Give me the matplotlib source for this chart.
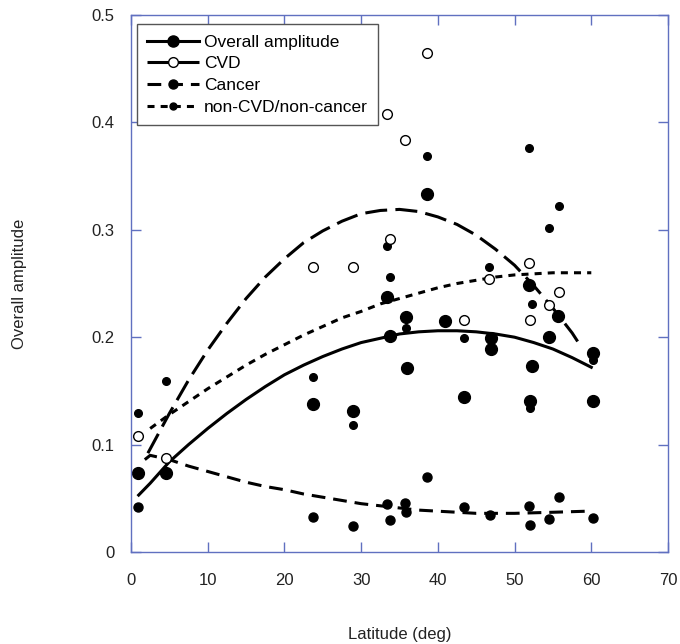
import matplotlib
matplotlib.use("Agg")
import matplotlib.pyplot as plt
from matplotlib.lines import Line2D

plt.rcParams['font.family'] = ['Liberation Sans', 'DejaVu Sans']

# point data (latitude, amplitude)
overall_lat = [0.9, 4.6, 23.7, 28.9, 33.4, 33.8, 35.9, 36.0, 38.6, 40.9, 43.4, 46.9, 46.9,
               51.9, 52.0, 52.3, 54.5, 55.7, 60.2, 60.2]
overall_amp = [0.074, 0.074, 0.138, 0.131, 0.237, 0.201, 0.219, 0.171, 0.333, 0.215, 0.144, 0.189, 0.199,
               0.249, 0.141, 0.173, 0.200, 0.220, 0.185, 0.141]

cvd_lat = [0.9, 4.6, 23.7, 28.9, 33.4, 33.8, 35.7, 38.6, 43.4, 46.7, 51.9, 52.0, 54.5, 55.8]
cvd_amp = [0.108, 0.0875, 0.265, 0.265, 0.408, 0.291, 0.384, 0.465, 0.216, 0.254, 0.269, 0.216, 0.230, 0.242]

cancer_lat = [0.9, 23.7, 28.9, 33.4, 33.8, 35.7, 35.9, 38.6, 43.4, 46.8, 51.9, 52.0, 54.5, 55.8, 60.2]
cancer_amp = [0.042, 0.033, 0.024, 0.045, 0.030, 0.046, 0.037, 0.070, 0.042, 0.034, 0.043, 0.025, 0.031, 0.051, 0.032]

other_lat = [0.9, 4.6, 23.7, 28.9, 33.4, 33.8, 35.9, 38.6, 43.4, 46.7, 51.9, 52.0, 52.3, 54.5, 55.8, 60.2]
other_amp = [0.129, 0.159, 0.163, 0.118, 0.285, 0.256, 0.209, 0.369, 0.199, 0.265, 0.376, 0.134, 0.231, 0.302, 0.322, 0.179]

# trend curves
overall_fit_x = [1, 2.5, 5, 7.5, 10, 12.5, 15, 17.5, 20, 22.5, 25, 27.5, 30, 32.5, 35, 37.5,
                 40, 42.5, 45, 47.5, 50, 52.5, 55, 57.5, 60]
overall_fit_y = [0.053, 0.064, 0.084, 0.100, 0.115, 0.129, 0.142, 0.154, 0.165, 0.174, 0.182, 0.189,
                 0.195, 0.199, 0.203, 0.205, 0.206, 0.206, 0.205, 0.203, 0.200, 0.195, 0.189, 0.181, 0.172]

cvd_fit_x = [2.2, 5, 7.5, 10, 12.5, 15, 17.5, 20, 22.5, 25, 27.5, 30, 32.5, 35, 37.5,
             40, 42.5, 45, 47.5, 50, 52.5, 55, 57.5, 58.5]
cvd_fit_y = [0.092, 0.129, 0.160, 0.188, 0.213, 0.236, 0.256, 0.273, 0.288, 0.299, 0.308, 0.315,
             0.318, 0.319, 0.317, 0.312, 0.305, 0.295, 0.282, 0.267, 0.248, 0.227, 0.204, 0.193]

cancer_fit_x = [1.8, 2.5, 5, 7.5, 10, 12.5, 15, 17.5, 20, 22.5, 25, 27.5, 30, 32.5, 35, 37.5,
                40, 45, 50, 55, 59.5]
cancer_fit_y = [0.086, 0.090, 0.086, 0.080, 0.075, 0.070, 0.065, 0.061, 0.058, 0.054, 0.051, 0.048,
                0.045, 0.043, 0.041, 0.039, 0.038, 0.036, 0.036, 0.037, 0.038]

other_fit_x = [2.5, 5, 7.5, 10, 12.5, 15, 17.5, 20, 22.5, 25, 27.5, 30, 32.5, 35, 37.5,
               40, 42.5, 45, 47.5, 50, 52.5, 55, 60]
other_fit_y = [0.115, 0.128, 0.140, 0.152, 0.163, 0.174, 0.184, 0.193, 0.202, 0.210, 0.218, 0.224,
               0.231, 0.236, 0.241, 0.246, 0.250, 0.253, 0.256, 0.258, 0.259, 0.260, 0.260]

spine_col = '#6070c0'
cvd_ls = (0, (7.2, 2.7))
cancer_ls = (0, (4.5, 2.6))
other_ls = (0, (2.3, 2.0))
lw = 2.2

fig = plt.figure(figsize=(6.8, 6.44), dpi=100)
ax = fig.add_axes([131 / 680, 1 - 552 / 644, 537 / 680, 537 / 644])

ax.plot(overall_fit_x, overall_fit_y, color='black', lw=lw, ls='-')
ax.plot(cvd_fit_x, cvd_fit_y, color='black', lw=lw, ls=cvd_ls)
ax.plot(cancer_fit_x, cancer_fit_y, color='black', lw=lw, ls=cancer_ls)
ax.plot(other_fit_x, other_fit_y, color='black', lw=lw, ls=other_ls)

ax.plot(overall_lat, overall_amp, 'o', color='black', ms=8.5, ls='none')
ax.plot(other_lat, other_amp, 'o', color='black', ms=5.5, ls='none')
ax.plot(cancer_lat, cancer_amp, 'o', color='black', ms=6.5, ls='none')
ax.plot(cvd_lat, cvd_amp, 'o', mfc='white', mec='black', mew=1.0, ms=7, ls='none')

ax.set_xlim(0, 70)
ax.set_ylim(0, 0.5)
ax.set_xticks(range(0, 71, 10))
ax.set_yticks([0, 0.1, 0.2, 0.3, 0.4, 0.5])
ax.set_yticklabels(['0', '0.1', '0.2', '0.3', '0.4', '0.5'])

for s in ax.spines.values():
    s.set_color(spine_col)
    s.set_linewidth(1.0)
ax.tick_params(direction='in', length=7, width=1.0, color=spine_col,
               top=True, right=True, labelsize=12, labelcolor='#222222')
ax.tick_params(axis='x', pad=15)
ax.tick_params(axis='y', pad=12)

ax.set_xlabel('Latitude (deg)', fontsize=12, color='#222222', labelpad=28)
ax.set_ylabel('Overall amplitude', fontsize=12, color='#222222', labelpad=46)

handles = [
    Line2D([], [], color='black', lw=lw, ls='-', marker='o', ms=8),
    Line2D([], [], color='black', lw=lw, ls=cvd_ls, marker='o', mfc='white', ms=7),
    Line2D([], [], color='black', lw=lw, ls=cancer_ls, marker='o', ms=6.5),
    Line2D([], [], color='black', lw=lw, ls=other_ls, marker='o', ms=5),
]
labels = ['Overall amplitude', 'CVD', 'Cancer', 'non-CVD/non-cancer']
leg = ax.legend(handles, labels, loc='upper left', bbox_to_anchor=(0.011, 0.983),
                borderaxespad=0, fontsize=12.5, handlelength=3.0, handletextpad=0.25,
                labelspacing=0.38, numpoints=1, fancybox=False, framealpha=1,
                edgecolor='#555555', borderpad=0.6)
leg.get_frame().set_linewidth(1.0)
leg.set_zorder(10)

fig.savefig('out.png', dpi=100)
